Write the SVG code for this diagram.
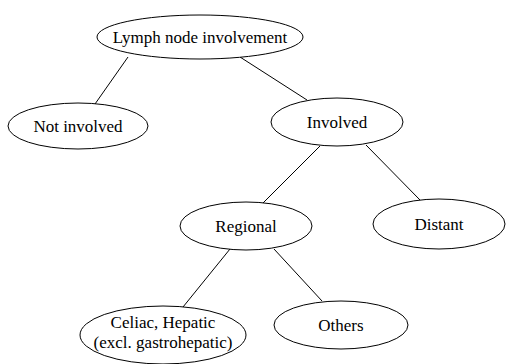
<svg xmlns="http://www.w3.org/2000/svg" width="507" height="364" viewBox="0 0 507 364">
<style>
.n ellipse{fill:#fff;stroke:#000;stroke-width:1}
.n text{font-family:"Liberation Serif",serif;font-size:17px;text-anchor:middle;fill:#000}
#edges line{stroke:#000;stroke-width:1}
</style>
<rect width="507" height="364" fill="#fff"/>
<g id="edges">
<line x1="128" y1="57" x2="95" y2="104"/>
<line x1="240" y1="57" x2="307" y2="100"/>
<line x1="320" y1="146" x2="263" y2="203"/>
<line x1="366" y1="145" x2="420" y2="200"/>
<line x1="230" y1="249" x2="183" y2="307"/>
<line x1="274" y1="249" x2="322" y2="301"/>
</g>
<g id="root" class="n"><ellipse cx="200" cy="37" rx="103" ry="22"/><text x="200" y="43">Lymph node involvement</text></g>
<g id="notinvolved" class="n"><ellipse cx="78" cy="126" rx="70" ry="23"/><text x="78" y="132">Not involved</text></g>
<g id="involved" class="n"><ellipse cx="337" cy="122" rx="66" ry="24"/><text x="337" y="128">Involved</text></g>
<g id="regional" class="n"><ellipse cx="246" cy="226" rx="66" ry="24"/><text x="246" y="232">Regional</text></g>
<g id="distant" class="n"><ellipse cx="439" cy="224" rx="66" ry="25"/><text x="439" y="230">Distant</text></g>
<g id="celiac" class="n"><ellipse cx="163" cy="335" rx="83" ry="29"/><text x="163" y="328">Celiac, Hepatic</text><text x="163" y="348">(excl. gastrohepatic)</text></g>
<g id="others" class="n"><ellipse cx="341" cy="325" rx="67" ry="24"/><text x="341" y="331">Others</text></g>
</svg>
